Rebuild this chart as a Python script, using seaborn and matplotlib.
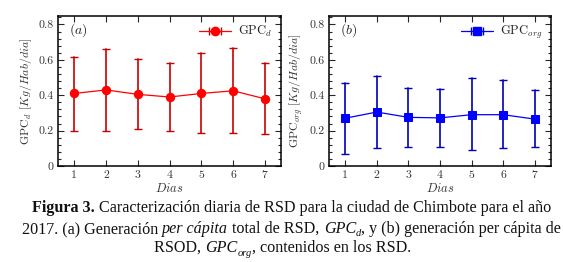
import numpy as np
import pandas as pd
import matplotlib
matplotlib.use("Agg")
import matplotlib.pyplot as plt
from matplotlib.ticker import MultipleLocator
import seaborn as sns

# datos
dias = [1, 2, 3, 4, 5, 6, 7]
gpc_d = [0.41, 0.43, 0.405, 0.39, 0.41, 0.425, 0.38]
gpc_d_low = [0.20, 0.20, 0.21, 0.20, 0.185, 0.185, 0.18]
gpc_d_high = [0.615, 0.66, 0.605, 0.58, 0.64, 0.665, 0.58]
gpc_org = [0.27, 0.305, 0.275, 0.272, 0.29, 0.29, 0.265]
gpc_org_low = [0.07, 0.10, 0.11, 0.11, 0.09, 0.10, 0.105]
gpc_org_high = [0.47, 0.51, 0.44, 0.435, 0.50, 0.485, 0.43]
ytick_vals = [0, 0.2, 0.4, 0.6, 0.8]
ytick_labels = ["0", "0.2", "0.4", "0.6", "0.8"]

sns.set_style("ticks")
plt.rcParams["font.family"] = "serif"
plt.rcParams["font.serif"] = ["cmr10", "DejaVu Serif"]
plt.rcParams["mathtext.fontset"] = "cm"
plt.rcParams["axes.unicode_minus"] = False


def long_df(mid, low, high):
    rows = []
    for d, m, lo, hi in zip(dias, mid, low, high):
        for v in (lo, m, hi):
            rows.append({"dia": d, "valor": v})
    return pd.DataFrame(rows)


fig = plt.figure(figsize=(5.63, 2.62), dpi=100)
ax1 = fig.add_axes([0.1036, 0.3664, 0.395, 0.574])
ax2 = fig.add_axes([0.585, 0.3664, 0.393, 0.574])

panels = [
    (ax1, gpc_d, gpc_d_low, gpc_d_high, "red", "#c80000", "o",
     r"GPC$_d$", r"GPC$_d$ $[Kg/Hab/dia]$", r"$(a)$"),
    (ax2, gpc_org, gpc_org_low, gpc_org_high, "#0000ff", "#0000b4", "s",
     r"GPC$_{org}$", r"GPC$_{org}$ $[Kg/Hab/dia]$", r"$(b)$"),
]

for ax, mid, low, high, col, ecol, mk, leg, ylab, tag in panels:
    df = long_df(mid, low, high)
    sns.lineplot(data=df, x="dia", y="valor", ax=ax, estimator="median",
                 errorbar=("pi", 100), err_style="bars", color=col,
                 marker=mk, markersize=6, markeredgecolor=col, lw=0.9,
                 zorder=3, legend=False,
                 err_kws=dict(ecolor=ecol, elinewidth=1.2, capsize=3,
                              capthick=1.0, zorder=2))
    # handle de leyenda tipo barra de error horizontal
    h = ax.errorbar([np.nan], [np.nan], xerr=[[np.nan], [np.nan]], color=col,
                    ecolor=ecol, marker=mk, markersize=6, lw=0.9, capsize=3)
    ax.legend([h], [leg], loc="upper right", frameon=False, fontsize=9,
              handlelength=2.6, borderaxespad=0.3, handletextpad=0.5)
    ax.set_xlim(0.5, 7.5)
    ax.set_ylim(0, 0.85)
    ax.set_xticks(dias)
    ax.set_xticklabels([str(d) for d in dias])
    ax.set_yticks(ytick_vals)
    ax.set_yticklabels(ytick_labels)
    ax.yaxis.set_minor_locator(MultipleLocator(0.04))
    ax.tick_params(which="both", direction="in", top=True, right=True,
                   labelsize=8.5, labelcolor="#333333", width=0.8)
    ax.tick_params(which="major", length=4)
    ax.tick_params(which="minor", length=2)
    for s in ax.spines.values():
        s.set_linewidth(1.1)
        s.set_color("black")
    ax.set_xlabel(r"$Dias$", fontsize=9, labelpad=1, color="#333333")
    ax.set_ylabel(ylab, fontsize=8.5, labelpad=3, color="#333333")
    ax.text(0.05, 0.88, tag, transform=ax.transAxes, fontsize=10)


# pie de figura: trozos de texto con estilos distintos puestos uno tras otro
def caption_line(y, runs, xc, size=11.6):
    W = fig.get_figwidth() * fig.dpi
    H = fig.get_figheight() * fig.dpi
    objs = []
    for s, st in runs:
        kw = dict(fontsize=size, family="Liberation Serif", va="baseline",
                  ha="left", color="#111111")
        if st == "b":
            kw["weight"] = "bold"
        if st in ("i", "sub"):
            kw["style"] = "italic"
        if st == "sub":
            kw["fontsize"] = size * 0.65
        objs.append((fig.text(0, y, s, **kw), st))
    r = fig.canvas.get_renderer()
    widths = [t.get_window_extent(r).width for t, _ in objs]
    x = xc * W - sum(widths) / 2
    for (t, st), w in zip(objs, widths):
        yy = y - (3.5 / H if st == "sub" else 0)
        t.set_position((x / W, yy))
        x += w


caption_line(0.191, [("Figura 3. ", "b"),
                     ("Caracterización diaria de RSD para la ciudad de Chimbote para el año", "n")],
             0.518)
caption_line(0.111, [("2017. (a) Generación ", "n"), ("per cápita", "i"),
                     (" total de RSD, ", "n"), ("GPC", "i"), ("d", "sub"),
                     (", y (b) generación per cápita de", "n")], 0.518)
caption_line(0.038, [("RSOD, ", "n"), ("GPC", "i"), ("org", "sub"),
                     (", contenidos en los RSD.", "n")], 0.502)

fig.savefig("out.png", dpi=100, facecolor="white")
